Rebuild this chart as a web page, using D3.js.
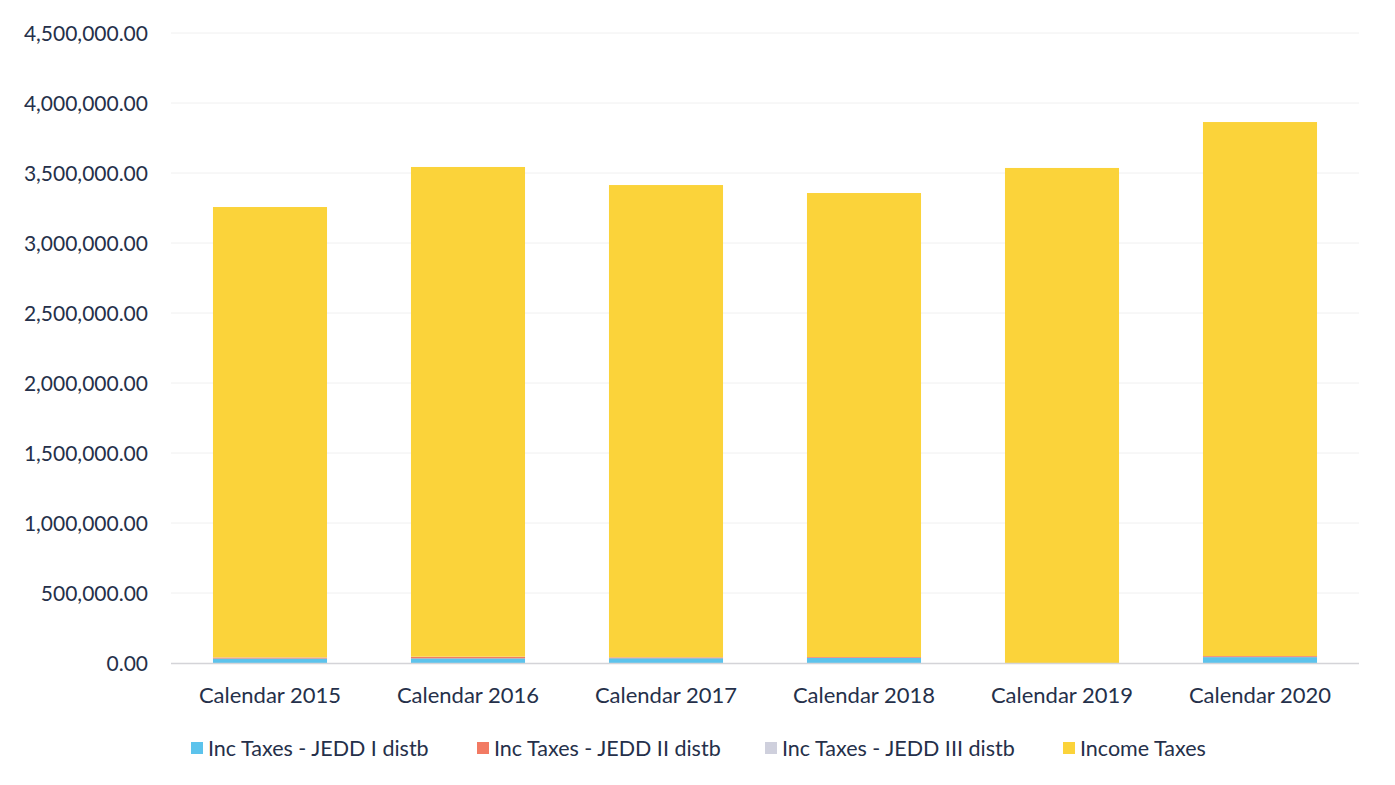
<!DOCTYPE html>
<html>
<head>
<meta charset="utf-8">
<script src="https://cdn.jsdelivr.net/npm/d3@7"></script>
<style>
  html, body { margin: 0; padding: 0; background: #ffffff; }
  svg { display: block; }
  text { font-family: Lato, "Open Sans", sans-serif; fill: #25304a; }
</style>
</head>
<body>
<svg id="chart" width="1395" height="785"></svg>
<script>
const categories = ["Calendar 2015", "Calendar 2016", "Calendar 2017", "Calendar 2018", "Calendar 2019", "Calendar 2020"];
const seriesNames = ["Inc Taxes - JEDD I distb", "Inc Taxes - JEDD II distb", "Inc Taxes - JEDD III distb", "Income Taxes"];
const jedd1 = [32000, 33000, 34000, 36000, 0, 42000];
const jedd2 = [7000, 11000, 6000, 6000, 0, 7000];
const jedd3 = [1000, 1000, 1000, 1000, 0, 1000];
const incomeTaxes = [3217000, 3498000, 3373000, 3314000, 3536000, 3814000];
const yTicks = [0, 500000, 1000000, 1500000, 2000000, 2500000, 3000000, 3500000, 4000000, 4500000];
const colors = ["#5cc3ec", "#f27a63", "#cfd0dd", "#fbd33a"];

const svg = d3.select("#chart");
const plotLeft = 171, plotRight = 1359, plotTop = 33, plotBottom = 663;

const x = d3.scaleBand().domain(categories).range([plotLeft, plotRight]).paddingInner(0.424).paddingOuter(0.212);
const y = d3.scaleLinear().domain([0, 4500000]).range([plotBottom, plotTop]);

const fmt = d3.format(",.2f");

// gridlines
svg.append("g").selectAll("line").data(yTicks.slice(1)).join("line")
  .attr("x1", plotLeft).attr("x2", plotRight)
  .attr("y1", d => y(d)).attr("y2", d => y(d))
  .attr("stroke", "#f0f0f0").attr("stroke-width", 1);

// stacked data
const table = categories.map((c, i) => ({
  cat: c, s0: jedd1[i], s1: jedd2[i], s2: jedd3[i], s3: incomeTaxes[i]
}));
const stack = d3.stack().keys(["s0", "s1", "s2", "s3"]);
const layers = stack(table);

svg.append("g").selectAll("g").data(layers).join("g")
  .attr("fill", (d, i) => colors[i])
  .selectAll("rect").data(d => d).join("rect")
  .attr("x", d => x(d.data.cat))
  .attr("width", x.bandwidth())
  .attr("y", d => y(d[1]))
  .attr("height", d => Math.max(0, y(d[0]) - y(d[1])));

// x axis line
svg.append("line").attr("x1", plotLeft).attr("x2", plotRight)
  .attr("y1", y(0) + 0.5).attr("y2", y(0) + 0.5)
  .attr("stroke", "#d4d4d8").attr("stroke-width", 1.5);

// y axis
const yAxis = d3.axisLeft(y).tickValues(yTicks).tickFormat(fmt).tickSize(0).tickPadding(0);
const gy = svg.append("g").attr("transform", `translate(148,0)`).call(yAxis);
gy.select(".domain").remove();
gy.selectAll("text").style("font-size", "21px").attr("fill", "#25304a").attr("dy", "0.35em");

// x axis
const xAxis = d3.axisBottom(x).tickSize(0).tickPadding(0);
const gx = svg.append("g").attr("transform", `translate(0,${plotBottom + 24})`).call(xAxis);
gx.select(".domain").remove();
gx.selectAll("text").style("font-size", "22px").attr("fill", "#25304a").attr("dy", "0.71em");

// legend
const legendX = [191, 477, 765, 1063];
const lg = svg.append("g").selectAll("g").data(seriesNames).join("g")
  .attr("transform", (d, i) => `translate(${legendX[i]},748)`);
lg.append("rect").attr("x", 0).attr("y", -6).attr("width", 12).attr("height", 12)
  .attr("fill", (d, i) => colors[i]);
lg.append("text").attr("x", 17).attr("y", 0).attr("dy", "0.35em")
  .style("font-size", "21.5px").text(d => d);
</script>
</body>
</html>
